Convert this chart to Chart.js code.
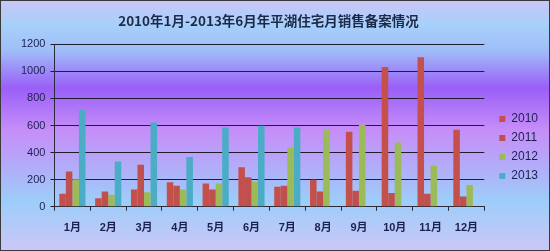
<!DOCTYPE html>
<html>
<head>
<meta charset="utf-8">
<script src="https://cdn.jsdelivr.net/npm/chart.js@4/dist/chart.umd.min.js"></script>
<style>
  html, body { margin: 0; padding: 0; background: #fff; }
  #wrap { width: 550px; height: 251px; }
</style>
</head>
<body>
<div id="wrap"><canvas id="salesChart" width="550" height="251"></canvas></div>
<script>
// months on the x axis
const months = ['1月', '2月', '3月', '4月', '5月', '6月', '7月', '8月', '9月', '10月', '11月', '12月'];

// monthly residential sales filings
const sales2010 = [96, 64, 128, 182, 172, 291, 148, 200, 554, 1032, 1103, 569];
const sales2011 = [261, 113, 310, 155, 128, 219, 155, 113, 118, 101, 96, 76];
const sales2012 = [204, 89, 108, 128, 172, 187, 438, 569, 606, 475, 303, 160];
const sales2013 = [717, 335, 623, 367, 586, 598, 586, null, null, null, null, null];

const yTicks = [0, 200, 400, 600, 800, 1000, 1200];

const labelFont = "'Liberation Sans', 'Noto Sans CJK SC', sans-serif";

// gradient background + frame drawn behind everything
const backdrop = {
    id: 'backdrop',
    beforeDraw(chart) {
        const ctx = chart.ctx;
        const w = chart.width, h = chart.height;
        const g = ctx.createLinearGradient(0, 0, 0, h);
        g.addColorStop(0.00, '#cac6f7');
        g.addColorStop(0.10, '#a7d0fa');
        g.addColorStop(0.20, '#9fbef9');
        g.addColorStop(0.35, '#9a5ff7');
        g.addColorStop(0.52, '#c68ef8');
        g.addColorStop(0.66, '#b3abf8');
        g.addColorStop(0.80, '#9dcdfa');
        g.addColorStop(1.00, '#cbc7f7');
        ctx.save();
        ctx.fillStyle = g;
        ctx.fillRect(0, 0, w, h);
        ctx.strokeStyle = '#3a3a3a';
        ctx.lineWidth = 1;
        ctx.strokeRect(0.5, 0.5, w - 1, h - 1);
        ctx.restore();
    }
};

function drawSalesChart() {
    const ctx = document.getElementById('salesChart').getContext('2d');
    new Chart(ctx, {
        type: 'bar',
        data: {
            labels: months,
            datasets: [
                { label: '2010', data: sales2010, backgroundColor: '#c5504b' },
                { label: '2011', data: sales2011, backgroundColor: '#c0504d' },
                { label: '2012', data: sales2012, backgroundColor: '#9bbb59' },
                { label: '2013', data: sales2013, backgroundColor: '#4bacc6' }
            ]
        },
        options: {
            responsive: false,
            animation: false,
            devicePixelRatio: 1,
            layout: { padding: { left: 16, right: 2, top: 13, bottom: 5 } },
            datasets: {
                bar: { categoryPercentage: 0.73, barPercentage: 1.0, borderWidth: 0 }
            },
            plugins: {
                tooltip: { enabled: false },
                title: {
                    display: true,
                    // two ideographic spaces nudge the title a little left, as in the original
                    text: '2010年1月-2013年6月年平湖住宅月销售备案情况\u3000\u3000',
                    color: '#1c2a4a',
                    font: { family: "'Noto Sans CJK SC', sans-serif", size: 13.5, weight: 'bold' },
                    padding: { top: 0, bottom: 15 }
                },
                legend: {
                    position: 'right',
                    title: {
                        display: true,
                        text: ' ',
                        font: { size: 10 },
                        padding: 12
                    },
                    labels: {
                        boxWidth: 6,
                        boxHeight: 6,
                        padding: 7,
                        color: '#1c2050',
                        font: { family: labelFont, size: 12 }
                    }
                }
            },
            scales: {
                x: {
                    grid: {
                        drawOnChartArea: false,
                        drawTicks: true,
                        tickLength: 4,
                        color: '#2a2a3a'
                    },
                    border: { display: true, color: '#2a2a3a', width: 1 },
                    ticks: {
                        color: '#1c2050',
                        padding: 11,
                        font: { family: labelFont, size: 11, weight: 'bold' }
                    }
                },
                y: {
                    min: 0,
                    max: 1200,
                    afterBuildTicks(axis) {
                        axis.ticks = yTicks.map(v => ({ value: v }));
                    },
                    grid: {
                        color: '#1e1e30',
                        lineWidth: 1,
                        tickLength: 4
                    },
                    border: { display: true, color: '#2a2a3a', width: 1 },
                    ticks: {
                        color: '#1c2050',
                        padding: 5,
                        font: { family: labelFont, size: 11 },
                        callback: v => String(v)
                    }
                },
                // empty spacer between plot and legend
                gap: {
                    position: 'right',
                    display: true,
                    grid: { display: false },
                    border: { display: false },
                    ticks: { display: false },
                    afterFit(axis) { axis.width = 8; }
                }
            }
        },
        plugins: [backdrop]
    });
}

window.onload = function() {
    drawSalesChart();
};
</script>
</body>
</html>
